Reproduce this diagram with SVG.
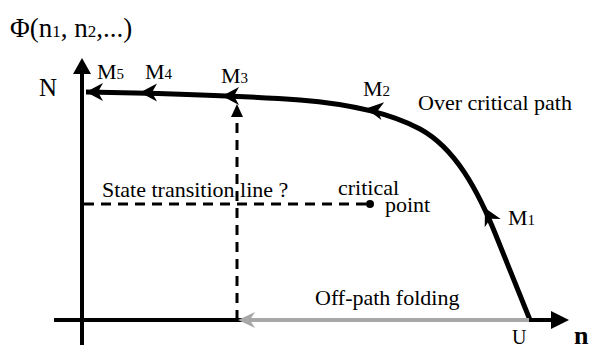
<svg xmlns="http://www.w3.org/2000/svg" xmlns:xlink="http://www.w3.org/1999/xlink" width="598" height="350" viewBox="0 0 598 350">
<style>
text{font-family:"Liberation Serif","Times New Roman",serif;fill:#000}
.lbl{font-size:22px}
.sub{font-size:15px}
.axis{stroke:#000;stroke-width:4;fill:none}
.curve{stroke:#000;stroke-width:5;fill:none;stroke-linejoin:round}
.dash{stroke:#000;stroke-width:3;fill:none;stroke-dasharray:10 7}
.gray{stroke:#a8a8a8;stroke-width:4;fill:none}
</style>
<defs>
<path id="barb" d="M0,0 L17,-9 L12,0 L17,9 Z" fill="#000"/>
<path id="gbarb" d="M0,0 L17,-8 L12,0 L17,8 Z" fill="#a8a8a8"/>
</defs>
<rect width="598" height="350" fill="#fff"/>
<g id="axes">
<line class="axis" x1="82" y1="345" x2="82" y2="70"/>
<polygon points="82,58 73,74 91,74" fill="#000"/>
<line class="axis" x1="54" y1="320" x2="554" y2="320"/>
<polygon points="569,320 551,311 551,329" fill="#000"/>
</g>
<g id="connectors">
<path class="curve" d="M530,320 L497,238 C478,190 455,148 420,129 C390,113 350,104 300,100 C260,97 200,94 86,92"/>
<use xlink:href="#barb" transform="translate(86,92)"/>
<use xlink:href="#barb" transform="translate(140,92.5)"/>
<use xlink:href="#barb" transform="translate(222,96)"/>
<use xlink:href="#barb" transform="translate(366,108.5) rotate(9)"/>
<use xlink:href="#barb" transform="translate(485,208) rotate(63)"/>
<line class="dash" x1="237" y1="320" x2="237" y2="114"/>
<polygon points="237,104 231,117 243,117" fill="#000"/>
<line class="dash" x1="84" y1="204" x2="368" y2="204"/>
<circle cx="370" cy="204" r="4" fill="#000"/>
<line class="gray" x1="244" y1="320" x2="529" y2="320"/>
<use xlink:href="#gbarb" transform="translate(238,320)"/>
</g>
<g id="title"><text x="10" y="37" style="font-size:27px">Φ(n<tspan style="font-size:17px">1</tspan>, n<tspan style="font-size:17px">2</tspan>,...)</text></g>
<g id="N"><text x="39" y="96" style="font-size:25px">N</text></g>
<g id="M5"><text class="lbl" x="97" y="79">M<tspan class="sub">5</tspan></text></g>
<g id="M4"><text class="lbl" x="145" y="79">M<tspan class="sub">4</tspan></text></g>
<g id="M3"><text class="lbl" x="221" y="83">M<tspan class="sub">3</tspan></text></g>
<g id="M2"><text class="lbl" x="363" y="96">M<tspan class="sub">2</tspan></text></g>
<g id="M1"><text class="lbl" x="508" y="225">M<tspan class="sub">1</tspan></text></g>
<g id="over"><text class="lbl" x="418" y="110">Over critical path</text></g>
<g id="state"><text class="lbl" x="102" y="197">State transition line ?</text></g>
<g id="critical"><text class="lbl" x="338" y="195">critical</text><text class="lbl" x="385" y="212">point</text></g>
<g id="offpath"><text class="lbl" x="315" y="305">Off-path folding</text></g>
<g id="U"><text x="512" y="344" style="font-size:20px">U</text></g>
<g id="n"><text x="574" y="344" style="font-size:26px;font-weight:bold">n</text></g>
</svg>
